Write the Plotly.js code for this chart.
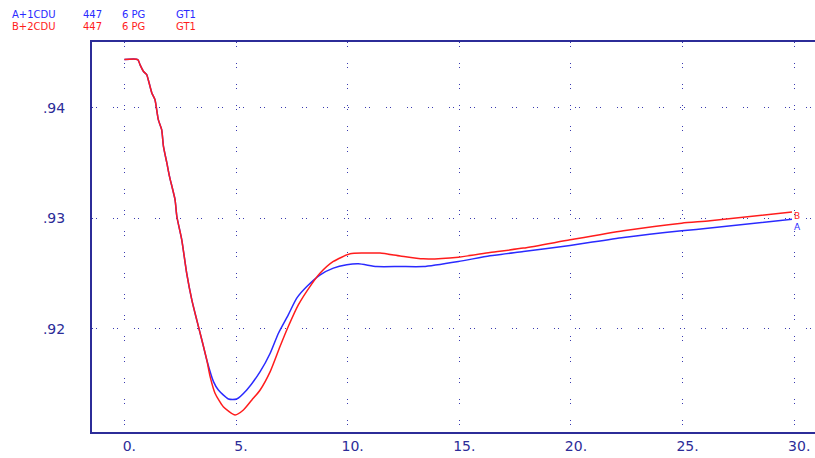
<!DOCTYPE html>
<html>
<head>
<meta charset="utf-8">
<script src="https://cdn.plot.ly/plotly-3.0.1.min.js"></script>
<style>
html,body{margin:0;padding:0;background:#fff;}
#chart{width:815px;height:458px;}
</style>
</head>
<body>
<div id="chart"></div>
<script>
// Time (s) and per-unit values
const timeCommon = [0, 0.6, 0.70, 0.85, 1.00, 1.07, 1.23, 1.37, 1.52, 1.67, 1.75, 1.90, 2.02, 2.27, 2.35, 2.57, 2.79, 3.02, 3.24, 3.47, 3.69];
const valCommon  = [0.94437, 0.94437, 0.94391, 0.94331, 0.94300, 0.94255, 0.94135, 0.94074, 0.93893, 0.93803, 0.93651, 0.93504, 0.93380, 0.93168, 0.93017, 0.92806, 0.92505, 0.92263, 0.92082, 0.91900, 0.91719];

const timeA = [3.99, 4.21, 4.66, 5.03, 5.48, 6.08, 6.53, 6.90, 7.34, 7.72, 8.17, 8.77, 9.36, 9.96, 10.48, 11.30, 12.35, 13.39, 14.96, 16.37, 17.87, 19.96, 22.35, 24.96, 26.23, 29.9];
const valA  = [0.91523, 0.91447, 0.91366, 0.91366, 0.91447, 0.91613, 0.91780, 0.91961, 0.92127, 0.92278, 0.92383, 0.92489, 0.92550, 0.92580, 0.92589, 0.92564, 0.92564, 0.92564, 0.92610, 0.92661, 0.92700, 0.92755, 0.92827, 0.92888, 0.92912, 0.92993];

const timeB = [3.84, 4.06, 4.43, 4.96, 5.33, 5.71, 6.08, 6.53, 6.97, 7.34, 7.79, 8.31, 8.77, 9.36, 10.11, 10.70, 11.45, 12.35, 13.39, 14.96, 16.37, 17.87, 19.96, 22.35, 24.96, 26.23, 29.9];
const valB  = [0.91568, 0.91418, 0.91296, 0.91221, 0.91266, 0.91357, 0.91447, 0.91613, 0.91840, 0.92021, 0.92217, 0.92383, 0.92505, 0.92610, 0.92679, 0.92686, 0.92686, 0.92660, 0.92634, 0.92649, 0.92691, 0.92731, 0.92806, 0.92888, 0.92957, 0.92978, 0.93057];

const xTicks = [0, 5, 10, 15, 20, 25, 30];
const xTickText = ["0.", "5.", "10.", "15.", "20.", "25.", "30."];
const yTicks = [0.92, 0.93, 0.94];
const yTickText = [".92", ".93", ".94"];

const headerA = ["A+1CDU", "447", "6 PG", "GT1"];
const headerB = ["B+2CDU", "447", "6 PG", "GT1"];
const labelA = "A", labelB = "B";

const blue = "#2a2aff", red = "#ff1c1c", navy = "#2c2c98";
const fam = "DejaVu Sans, Liberation Sans, Arial, sans-serif";

const xA = timeCommon.concat(timeA), yA = valCommon.concat(valA);
const xB = timeCommon.concat(timeB), yB = valCommon.concat(valB);

const traces = [
  {x: xA, y: yA, mode: "lines", line: {color: blue, width: 1.5, shape: "spline", smoothing: 0.6}, hoverinfo: "skip"},
  {x: xB, y: yB, mode: "lines", line: {color: red, width: 1.5, shape: "spline", smoothing: 0.6}, hoverinfo: "skip"}
];

const colX = [-0.1135, -0.0152, 0.0387, 0.1134];
const annotations = [];
headerA.forEach((t, i) => annotations.push({xref: "paper", yref: "paper", x: colX[i], y: 1.0705, xanchor: "left", yanchor: "middle", text: t, showarrow: false, font: {family: fam, size: 10, color: blue}}));
headerB.forEach((t, i) => annotations.push({xref: "paper", yref: "paper", x: colX[i], y: 1.0385, xanchor: "left", yanchor: "middle", text: t, showarrow: false, font: {family: fam, size: 10, color: red}}));
annotations.push({xref: "x", yref: "y", x: xB[xB.length - 1], y: yB[yB.length - 1], text: labelB, showarrow: false, xshift: 5, yshift: -4, font: {family: fam, size: 9, color: red}});
annotations.push({xref: "x", yref: "y", x: xA[xA.length - 1], y: yA[yA.length - 1], text: labelA, showarrow: false, xshift: 5, yshift: -8, font: {family: fam, size: 9, color: blue}});

const layout = {
  width: 815, height: 458,
  margin: {l: 92, r: 0, t: 42, b: 26, pad: 0},
  paper_bgcolor: "#fff", plot_bgcolor: "#fff",
  showlegend: false,
  font: {family: fam, size: 14, color: navy},
  xaxis: {
    range: [-1.45, 30.93], tickvals: xTicks, ticktext: xTickText,
    showline: true, linecolor: navy, linewidth: 2, mirror: true,
    showgrid: true, gridcolor: "#3a3ab0", gridwidth: 1, griddash: "1px,3px,1px,16px",
    zeroline: false, ticks: "", ticklabelshift: 5, ticklabelstandoff: 0,
    tickfont: {family: fam, size: 14, color: navy}
  },
  yaxis: {
    range: [0.91067, 0.94596], tickvals: yTicks, ticktext: yTickText,
    showline: true, linecolor: navy, linewidth: 2, mirror: false,
    showgrid: true, gridcolor: "#3a3ab0", gridwidth: 1, griddash: "1px,3px,1px,16px",
    zeroline: false, ticks: "", ticklabelstandoff: 22,
    tickfont: {family: fam, size: 14, color: navy}
  },
  annotations: annotations
};

Plotly.newPlot("chart", traces, layout, {displayModeBar: false, staticPlot: true});
</script>
</body>
</html>
